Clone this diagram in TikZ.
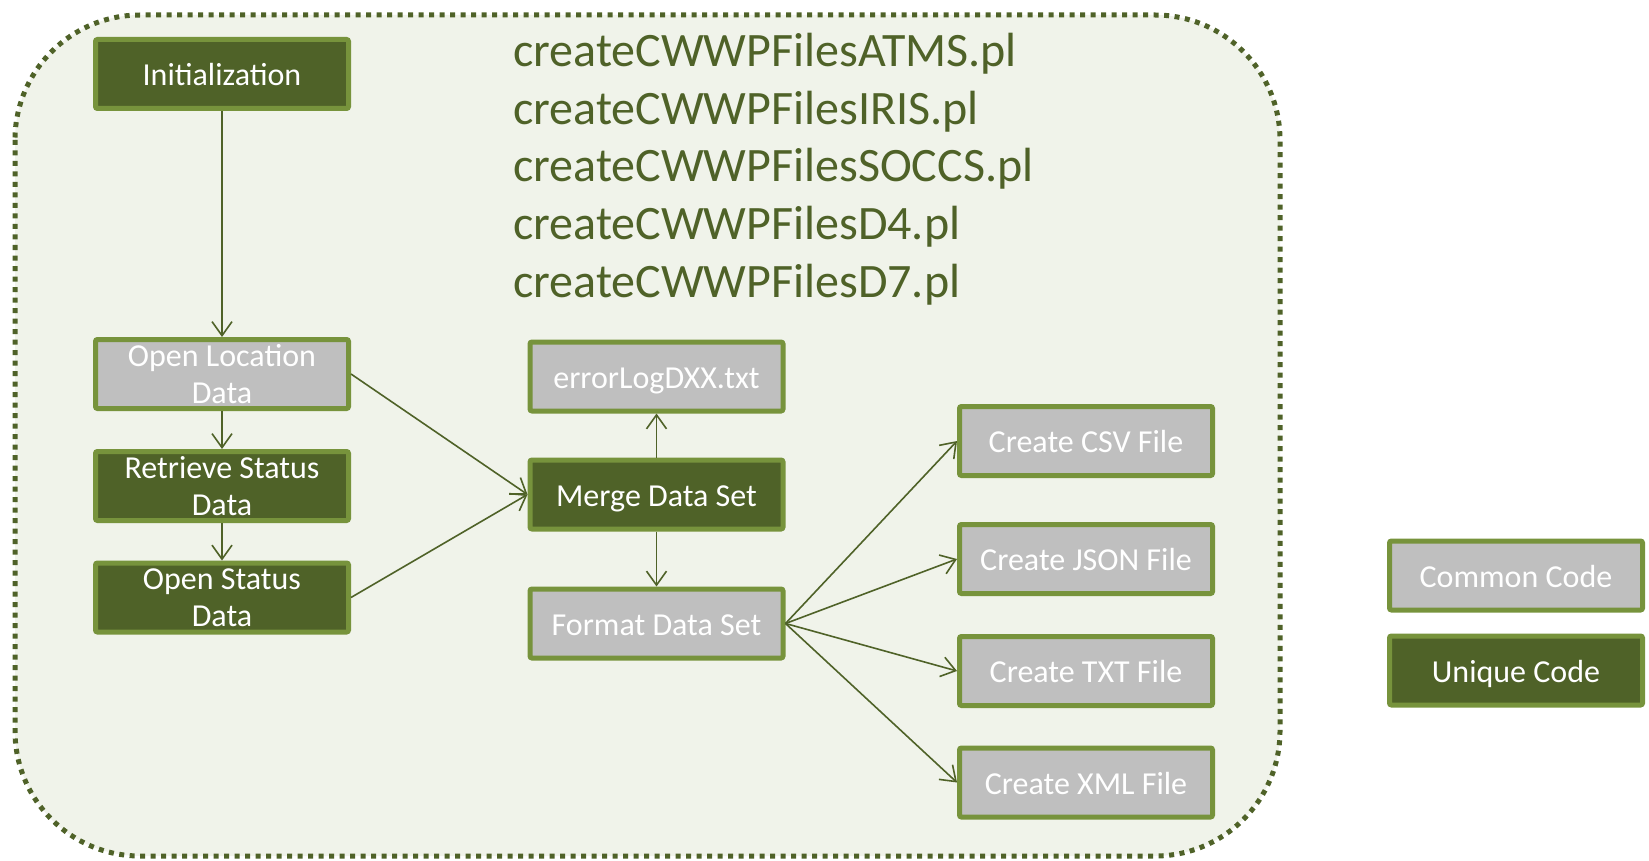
\documentclass[tikz,border=0pt]{standalone}
\usepackage{fontspec}
\setmainfont{Carlito}
\usetikzlibrary{arrows.meta}
\definecolor{olive}{HTML}{4F6228}
\definecolor{rim}{HTML}{77933C}
\definecolor{greybox}{HTML}{BFBFBF}
\definecolor{panel}{HTML}{F0F3EA}
\tikzset{
  box/.style={draw=rim, line width=5pt, rounded corners=2pt, minimum width=253pt,
    minimum height=69pt, inner sep=0pt, align=center, text=white,
    font=\fontsize{32}{37.5}\selectfont},
  oneline/.style={text height=23pt, text depth=0pt},
  unique/.style={box, fill=olive},
  common/.style={box, fill=greybox},
  flow/.style={draw=olive, line width=1.6pt, -{Straight Barb[length=14pt,width=20pt,line width=1.6pt]}},
  title/.style={anchor=base west, text=olive, inner sep=0pt, font=\fontsize{48}{57}\selectfont}
}
\begin{document}
\begin{tikzpicture}[x=1pt,y=-1pt]
\useasboundingbox (0,0) rectangle (1649,861);
% dotted panel around the flow
\draw[olive, fill=panel, line width=5pt, dash pattern=on 5pt off 5.5pt, rounded corners=125pt]
  (15,15) rectangle (1280,856);

% script names
\node[title] (t1) at (513,67) {createCWWPFilesATMS.pl};
\node[title] (t2) at (513,124.5) {createCWWPFilesIRIS.pl};
\node[title] (t3) at (513,182) {createCWWPFilesSOCCS.pl};
\node[title] (t4) at (513,239.5) {createCWWPFilesD4.pl};
\node[title] (t5) at (513,297) {createCWWPFilesD7.pl};

% left column
\node[unique, oneline] (init) at (222,74) {Initialization};
\node[common] (loc) at (222,374) {Open Location\\Data};
\node[unique] (ret) at (222,486) {Retrieve Status\\Data};
\node[unique] (stat) at (222,597.5) {Open Status\\Data};

% middle column
\node[common, oneline] (err) at (656.5,376.5) {errorLogDXX.txt};
\node[unique, oneline] (merge) at (656.5,494.5) {Merge Data Set};
\node[common, oneline] (fmt) at (656.5,623.5) {Format Data Set};

% output files
\node[common, oneline] (csv) at (1086,441) {Create CSV File};
\node[common, oneline] (json) at (1086,559) {Create JSON File};
\node[common, oneline] (txt) at (1086,671) {Create TXT File};
\node[common, oneline] (xml) at (1086,782.5) {Create XML File};

% legend
\node[common, oneline] (lcommon) at (1516,575.5) {Common Code};
\node[unique, oneline] (lunique) at (1516,670.5) {Unique Code};

% connectors
\draw[flow] (init.south) -- (loc.north);
\draw[flow] (loc.south) -- (ret.north);
\draw[flow] (ret.south) -- (stat.north);
\draw[flow] (loc.east) -- (merge.west);
\draw[flow] (stat.east) -- (merge.west);
\draw[flow] (merge.north) -- (err.south);
\draw[flow] (merge.south) -- (fmt.north);
\draw[flow] (fmt.east) -- (csv.west);
\draw[flow] (fmt.east) -- (json.west);
\draw[flow] (fmt.east) -- (txt.west);
\draw[flow] (fmt.east) -- (xml.west);
\end{tikzpicture}
\end{document}
